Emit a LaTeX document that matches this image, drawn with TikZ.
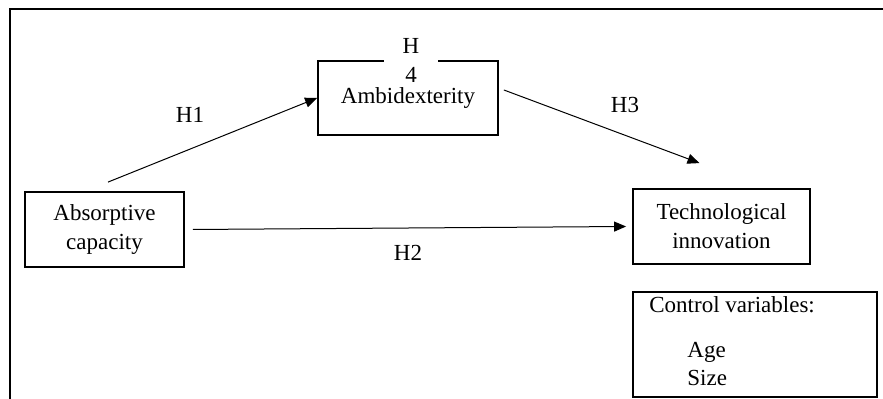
\documentclass[tikz,border=0pt]{standalone}
\usepackage{fontspec}
\setmainfont{Liberation Serif}
\usetikzlibrary{positioning,arrows.meta}

\begin{document}
\begin{tikzpicture}[x=0.5pt,y=-0.5pt,
                    every node/.style={font=\fontsize{11.5}{14.5}\selectfont},
                    box/.style={rectangle,draw,line width=0.9pt,
                                minimum height=37.5pt,inner sep=0pt,
                                align=center},
                    arr/.style={-{Triangle[length=6pt,width=5pt]},line width=0.5pt},
                    frame/.style={line width=1.1pt}]
  \useasboundingbox (0,0) rectangle (883,399);
  \draw[frame] (10,399) -- (10,9) -- (883,9);
  % variables
  \node[box,minimum width=79.5pt] (absorb) at (104.5,229.5) {Absorptive\\capacity};
  \node[box,minimum width=90pt,minimum height=37pt] (ambi) at (408,98) {Ambidexterity};
  \node[fill=white,inner sep=0pt,minimum width=27pt,align=center] (h4) at (411,60.5) {H\\4};
  \node[box,minimum width=88.5pt] (tech) at (721.5,226.5) {Technological\\innovation};
  \node[box,minimum width=122pt,minimum height=52.5pt,
        below=13pt of tech.south west,anchor=north west] (ctrl) {};
  \node[anchor=base west,inner sep=0pt] (ctrltitle) at (649,313) {Control variables:};
  \node[anchor=base west,inner sep=0pt] (age) at (687,358) {Age};
  \node[anchor=base west,inner sep=0pt] (size) at (687,386) {Size};
  % hypotheses
  \draw[arr] ([shift={(1.75pt,4.5pt)}]absorb.north) -- (ambi.west);
  \draw[arr] ([shift={(2.5pt,4pt)}]ambi.east) -- ([shift={(-11pt,12.5pt)}]tech.north);
  \draw[arr] ([xshift=4pt]absorb.east) -- ([xshift=-3pt]tech.west);
  \node (h1) at (190,115) {H1};
  \node (h2) at (408,253) {H2};
  \node (h3) at (625,105) {H3};
\end{tikzpicture}
\end{document}
